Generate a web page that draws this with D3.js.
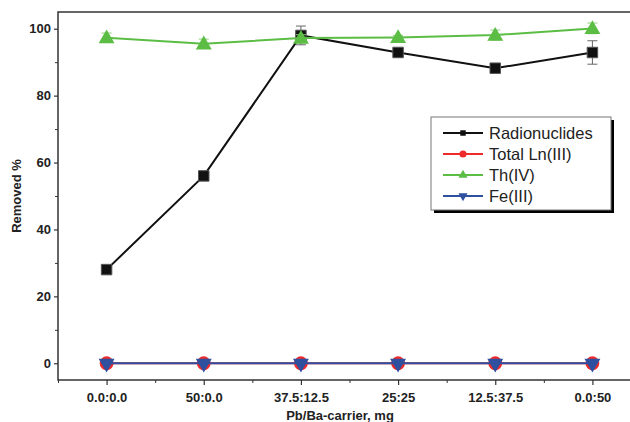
<!DOCTYPE html>
<html>
<head>
<meta charset="utf-8">
<script src="https://d3js.org/d3.v7.min.js"></script>
<style>
body { margin: 0; background: #fff; overflow: hidden; }
svg { display: block; overflow: hidden; }
text { font-family: Arial, "Liberation Sans", Helvetica, sans-serif; }
</style>
</head>
<body>
<div id="my_dataviz"></div>
<script>

// categories (Pb/Ba carrier ratio)
var categories = ["0.0:0.0", "50:0.0", "37.5:12.5", "25:25", "12.5:37.5", "0.0:50"];

// series values
var radionuclides    = [28, 56, 98, 92.9, 88.2, 92.9];
var radionuclidesErr = [0.5, 0.5, 2.8, 0.8, 1, 3.5];
var totalLn          = [0, 0, 0, 0, 0, 0];
var thorium          = [97.3, 95.5, 97.2, 97.4, 98.1, 100.1];
var thoriumErr       = [1.4, 1.4, 1, 0.6, 1.5, 1.6];
var iron             = [0, 0, 0, 0, 0, 0];

var yTicks = [0, 20, 40, 60, 80, 100];
var yMinor = [10, 30, 50, 70, 90];

var margin = {top: 12, left: 58},
    width = 583,
    height = 368;

var svg = d3.select("#my_dataviz")
  .append("svg")
    .attr("width", 630)
    .attr("height", 422)
  .append("g")
    .attr("transform", "translate(" + margin.left + "," + margin.top + ")");

var x = d3.scaleLinear()
  .domain([-0.5, categories.length - 0.5])
  .range([0, width]);

var y = d3.scaleLinear()
  .domain([-5, 105])
  .range([height, 0]);

var axisColor = "#333";

// frame: the right side runs past the picture edge
svg.append("path")
  .attr("d", "M" + width + ",0H0V" + height + "H" + width)
  .attr("fill", "none")
  .attr("stroke", axisColor)
  .attr("stroke-width", 1.5);

// y axis
var yAxis = svg.append("g")
  .call(d3.axisLeft(y).tickValues(yTicks).tickSize(4).tickPadding(3));
yAxis.select(".domain").remove();
yAxis.selectAll("text")
  .style("font-size", "13px")
  .style("font-weight", "bold")
  .attr("fill", "#222");
yAxis.selectAll("line").attr("stroke", axisColor).attr("stroke-width", 1.2);

var yAxisMinor = svg.append("g")
  .call(d3.axisLeft(y).tickValues(yMinor).tickSize(3).tickFormat(""));
yAxisMinor.select(".domain").remove();
yAxisMinor.selectAll("line").attr("stroke", axisColor);

// x axis
var xAxis = svg.append("g")
  .attr("transform", "translate(0," + height + ")")
  .call(d3.axisBottom(x)
    .tickValues(d3.range(categories.length))
    .tickFormat(function(d) { return categories[d]; })
    .tickSize(5).tickPadding(8));
xAxis.select(".domain").remove();
xAxis.selectAll("text")
  .style("font-size", "13px")
  .style("font-weight", "bold")
  .attr("fill", "#222");
xAxis.selectAll("line").attr("stroke", axisColor).attr("stroke-width", 1.2);

var xAxisMinor = svg.append("g")
  .attr("transform", "translate(0," + height + ")")
  .call(d3.axisBottom(x)
    .tickValues(d3.range(categories.length + 1).map(function(d) { return d - 0.5; }))
    .tickSize(3).tickFormat(""));
xAxisMinor.select(".domain").remove();
xAxisMinor.selectAll("line").attr("stroke", axisColor);

// axis titles
svg.append("text")
  .attr("transform", "rotate(-90)")
  .attr("x", -(y(50)))
  .attr("y", -37)
  .style("text-anchor", "middle")
  .style("font-size", "13px")
  .style("font-weight", "bold")
  .attr("fill", "#222")
  .text("Removed %");

svg.append("text")
  .attr("x", 282)
  .attr("y", 408)
  .style("text-anchor", "middle")
  .style("font-size", "13px")
  .style("font-weight", "bold")
  .attr("fill", "#222")
  .text("Pb/Ba-carrier, mg");

var series = [
  {name: "Radionuclides", values: radionuclides, err: radionuclidesErr, color: "#111", errColor: "#666", symbol: d3.symbolSquare, size: 110, legendSize: 30},
  {name: "Total Ln(III)", values: totalLn, err: null, color: "#ee2a2a", symbol: d3.symbolCircle, size: 150, legendSize: 40},
  {name: "Th(IV)", values: thorium, err: thoriumErr, color: "#5cbd45", errColor: "#8ed07d", symbol: d3.symbolTriangle, size: 110, legendSize: 36},
  {name: "Fe(III)", values: iron, err: null, color: "#2f4f9f", symbol: d3.symbolTriangle, size: 110, legendSize: 36, flip: true}
];

var line = d3.line()
  .x(function(d, i) { return x(i); })
  .y(function(d) { return y(d); });

// draw order: Th sits over Radionuclides, Fe over Ln
series.forEach(function(s) {
  var g = svg.append("g");

  g.append("path")
    .datum(s.values)
    .attr("d", line)
    .attr("fill", "none")
    .attr("stroke", s.color)
    .attr("stroke-width", 2);

  if (s.err) {
    var eb = g.selectAll(".err")
      .data(s.values)
      .enter().append("g");
    eb.append("line")
      .attr("x1", function(d, i) { return x(i); })
      .attr("x2", function(d, i) { return x(i); })
      .attr("y1", function(d, i) { return y(d + s.err[i]); })
      .attr("y2", function(d, i) { return y(d - s.err[i]); })
      .attr("stroke", s.errColor).attr("stroke-width", 1);
    [1, -1].forEach(function(sign) {
      eb.append("line")
        .attr("x1", function(d, i) { return x(i) - 5; })
        .attr("x2", function(d, i) { return x(i) + 5; })
        .attr("y1", function(d, i) { return y(d + sign * s.err[i]); })
        .attr("y2", function(d, i) { return y(d + sign * s.err[i]); })
        .attr("stroke", s.errColor).attr("stroke-width", 1);
    });
  }

  g.selectAll(".pt")
    .data(s.values)
    .enter().append("path")
      .attr("d", d3.symbol().type(s.symbol).size(s.size))
      .attr("transform", function(d, i) {
        var t = "translate(" + x(i) + "," + (y(d) + (s.symbol === d3.symbolTriangle && !s.flip ? 1 : 0)) + ")";
        return s.flip ? t + " rotate(180)" : t;
      })
      .attr("fill", s.color)
      .attr("stroke", s.color === "#111" ? "#555" : "none")
      .attr("stroke-width", 1);
});

// legend
var lg = svg.append("g")
  .attr("transform", "translate(" + (431 - margin.left) + "," + (117 - margin.top) + ")");

lg.append("rect")
  .attr("x", 3).attr("y", 3)
  .attr("width", 180).attr("height", 93)
  .attr("fill", "#000");
lg.append("rect")
  .attr("x", 0).attr("y", 0)
  .attr("width", 180).attr("height", 93)
  .attr("fill", "#fff")
  .attr("stroke", "#777")
  .attr("stroke-width", 1);

series.forEach(function(s, i) {
  var ly = 16 + i * 21;
  lg.append("line")
    .attr("x1", 12).attr("x2", 52)
    .attr("y1", ly).attr("y2", ly)
    .attr("stroke", s.color)
    .attr("stroke-width", 2);
  lg.append("path")
    .attr("d", d3.symbol().type(s.symbol).size(s.legendSize))
    .attr("transform", "translate(32," + ly + ")" + (s.flip ? " rotate(180)" : ""))
    .attr("fill", s.color);
  lg.append("text")
    .attr("x", 58)
    .attr("y", ly + 6)
    .style("font-size", "16.5px")
    .attr("fill", "#222")
    .text(s.name);
});

</script>
</body>
</html>
